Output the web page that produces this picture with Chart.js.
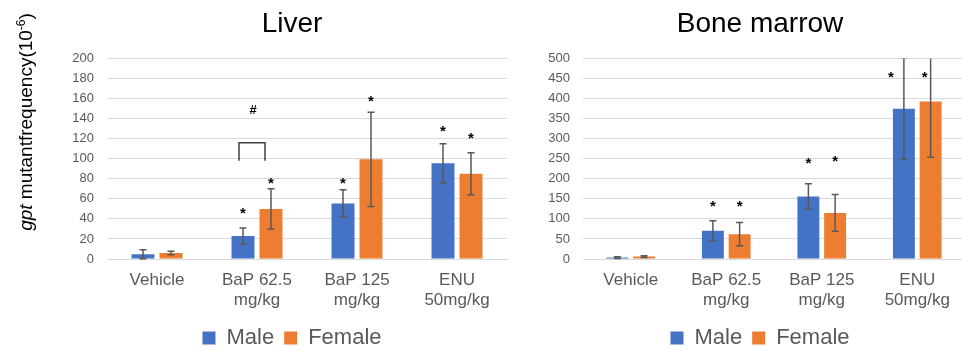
<!DOCTYPE html>
<html>
<head>
<meta charset="utf-8">
<script src="https://cdn.jsdelivr.net/npm/chart.js@4"></script>
<style>
  html, body { margin: 0; padding: 0; background: #fff; overflow: hidden; }
  #wrap { position: relative; width: 962px; height: 351px; overflow: hidden; }
  #liver-box { position: absolute; left: 0; top: 0; width: 584px; height: 351px; }
  #marrow-box { position: absolute; left: 540px; top: 0; width: 440px; height: 351px; }
</style>
</head>
<body>
<div id="wrap">
  <div id="liver-box"><canvas id="liver-chart"></canvas></div>
  <div id="marrow-box"><canvas id="marrow-chart"></canvas></div>
</div>
<script>
// categories (multi-line x labels)
const categories = [['Vehicle'], ['BaP 62.5', 'mg/kg'], ['BaP 125', 'mg/kg'], ['ENU', '50mg/kg']];
const seriesNames = ['Male', 'Female'];

// Liver: means and error (+/-)
const liverMale = [4.8, 23, 55.5, 95.5];
const liverMaleErr = [4.5, 8, 13.5, 19.5];
const liverFemale = [6, 50, 99.5, 85];
const liverFemaleErr = [1.8, 20, 47, 21];
const liverTicks = [0, 20, 40, 60, 80, 100, 120, 140, 160, 180, 200];

// Bone marrow: means and error (+/-)
const marrowMale = [3.5, 70.5, 156, 375];
const marrowMaleErr = [2, 25, 32, 127];
const marrowFemale = [6, 62, 115, 393];
const marrowFemaleErr = [2, 29, 46, 139];
const marrowTicks = [0, 50, 100, 150, 200, 250, 300, 350, 400, 450, 500];

// significance marks: value where the "*" sits (null = none)
const liverMaleStar = [null, 49, 79, 131];
const liverFemaleStar = [null, 79, 161, 124];
const marrowMaleStar = [null, 140, 248, 462];
const marrowFemaleStar = [null, 140, 252, 462];

// "#" between male/female BaP 62.5 in liver: hash value, bracket top, bracket leg end
const liverHash = { index: 1, hash: 148, top: 116, leg: 98 };

const blue = '#4472C4';
const orange = '#ED7D31';
const grey = '#595959';
const FONT = '"Liberation Sans", Arial, sans-serif';

const errorBars = {
  id: 'errorBars',
  afterDatasetsDraw(chart, args, opts) {
    const ctx = chart.ctx;
    const y = chart.scales.y;
    const area = chart.chartArea;
    ctx.save();
    ctx.beginPath();
    ctx.rect(area.left, area.top, area.right - area.left, area.bottom - area.top + 2);
    ctx.clip();
    ctx.strokeStyle = grey;
    ctx.lineWidth = 1.5;
    chart.data.datasets.forEach((ds, di) => {
      const meta = chart.getDatasetMeta(di);
      meta.data.forEach((bar, i) => {
        const v = ds.data[i], e = ds.err[i];
        const top = y.getPixelForValue(v + e);
        const bot = y.getPixelForValue(Math.max(v - e, 0));
        ctx.beginPath();
        ctx.moveTo(bar.x, top); ctx.lineTo(bar.x, bot);
        ctx.moveTo(bar.x - 3.5, top); ctx.lineTo(bar.x + 3.5, top);
        ctx.moveTo(bar.x - 3.5, bot); ctx.lineTo(bar.x + 3.5, bot);
        ctx.stroke();
      });
    });
    ctx.restore();

    // stars
    ctx.save();
    ctx.fillStyle = '#000';
    ctx.font = 'bold 15px ' + FONT;
    ctx.textAlign = 'center';
    ctx.textBaseline = 'middle';
    chart.data.datasets.forEach((ds, di) => {
      const meta = chart.getDatasetMeta(di);
      const dx = (opts.starDx && opts.starDx[di]) || [0, 0, 0, 0];
      ds.stars.forEach((s, i) => {
        if (s === null) return;
        ctx.fillText('*', meta.data[i].x + dx[i], y.getPixelForValue(s) + 4);
      });
    });

    // hash + bracket
    if (opts.hash) {
      const h = opts.hash;
      const cx = chart.scales.x.getPixelForValue(h.index) - 5;
      ctx.font = 'bold 13px ' + FONT;
      ctx.fillText('#', cx + 1, y.getPixelForValue(h.hash));
      ctx.strokeStyle = '#404040';
      ctx.lineWidth = 1.5;
      ctx.beginPath();
      ctx.moveTo(cx - 13, y.getPixelForValue(h.leg));
      ctx.lineTo(cx - 13, y.getPixelForValue(h.top));
      ctx.lineTo(cx + 13, y.getPixelForValue(h.top));
      ctx.lineTo(cx + 13, y.getPixelForValue(h.leg));
      ctx.stroke();
    }
    ctx.restore();
  }
};

const yTitle = {
  id: 'yTitle',
  afterDraw(chart, args, opts) {
    if (!opts.show) return;
    const ctx = chart.ctx;
    const parts = [
      { t: 'gpt', f: 'italic 19px ' + FONT, dy: 0 },
      { t: ' mutantfrequency(10', f: '19px ' + FONT, dy: 0 },
      { t: '-6', f: '12px ' + FONT, dy: -7 },
      { t: ')', f: '19px ' + FONT, dy: 0 }
    ];
    ctx.save();
    let total = 0;
    parts.forEach(p => { ctx.font = p.f; p.w = ctx.measureText(p.t).width; total += p.w; });
    ctx.translate(32, 122);
    ctx.rotate(-Math.PI / 2);
    ctx.fillStyle = '#000';
    ctx.textBaseline = 'alphabetic';
    let x = -total / 2;
    parts.forEach(p => { ctx.font = p.f; ctx.fillText(p.t, x, p.dy); x += p.w; });
    ctx.restore();
  }
};

function makeChart(id, title, male, maleErr, female, femaleErr, maleStar, femaleStar, ticks, yMax, axisWidth, rightWidth, hash, showYTitle, starDx) {
  const ctx = document.getElementById(id).getContext('2d');
  return new Chart(ctx, {
    type: 'bar',
    data: {
      labels: categories,
      datasets: [
        { label: seriesNames[0], data: male, err: maleErr, stars: maleStar, backgroundColor: blue,
          categoryPercentage: 0.56, barPercentage: 0.82 },
        { label: seriesNames[1], data: female, err: femaleErr, stars: femaleStar, backgroundColor: orange,
          categoryPercentage: 0.56, barPercentage: 0.82 }
      ]
    },
    options: {
      responsive: true,
      maintainAspectRatio: false,
      animation: false,
      layout: { padding: { left: 0, right: 0, top: 0, bottom: -8 } },
      scales: {
        x: {
          grid: { display: false, drawTicks: false },
          border: { display: true, color: '#D9D9D9' },
          afterFit: s => { s.height = 58; },
          ticks: { color: grey, font: { size: 17, family: FONT }, padding: 11, maxRotation: 0, autoSkip: false }
        },
        y: {
          min: 0, max: yMax,
          afterBuildTicks: s => { s.ticks = ticks.map(v => ({ value: v })); },
          afterFit: s => { s.width = axisWidth; },
          grid: { color: '#D9D9D9', drawTicks: false },
          border: { display: false },
          ticks: { color: grey, font: { size: 13, family: FONT }, padding: 13, autoSkip: false }
        },
        // empty spacer on the right so the plot sits where the original one does
        spacer: {
          type: 'linear', position: 'right', axis: 'y',
          afterFit: s => { s.width = rightWidth; },
          grid: { display: false, drawTicks: false },
          border: { display: false },
          ticks: { display: false }
        }
      },
      plugins: {
        title: {
          display: true, text: title, color: '#000',
          font: { size: 28, weight: 'normal', family: FONT },
          padding: { top: 7, bottom: 18 }
        },
        legend: {
          position: 'bottom',
          labels: {
            color: grey, boxWidth: 13, boxHeight: 13, padding: 10,
            font: { size: 22, family: FONT }
          }
        },
        tooltip: { enabled: false },
        errorBars: { hash: hash, starDx: starDx },
        yTitle: { show: showYTitle }
      }
    },
    plugins: [errorBars, yTitle]
  });
}

makeChart('liver-chart', 'Liver', liverMale, liverMaleErr, liverFemale, liverFemaleErr,
  liverMaleStar, liverFemaleStar, liverTicks, 200, 107, 77, liverHash, true, null);
makeChart('marrow-chart', 'Bone marrow', marrowMale, marrowMaleErr, marrowFemale, marrowFemaleErr,
  marrowMaleStar, marrowFemaleStar, marrowTicks, 500, 43, 15, null, false, [[0, 0, 0, -13], [0, 0, 0, -6]]);
</script>
</body>
</html>
